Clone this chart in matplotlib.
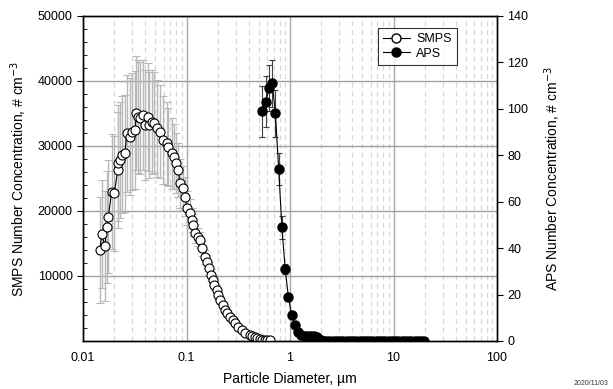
import matplotlib
matplotlib.use("Agg")
import matplotlib.pyplot as plt
from matplotlib.lines import Line2D
from matplotlib.ticker import FixedLocator, NullFormatter, MultipleLocator

plt.rcParams['font.family'] = ['Liberation Sans', 'DejaVu Sans']

# SMPS size distribution (diameter in um, number conc. in # cm-3)
smps_d = [0.01459, 0.01516, 0.01632, 0.01694, 0.01757, 0.01894, 0.02006, 0.02164,
          0.02193, 0.02279, 0.02365, 0.02546, 0.02644, 0.02846, 0.02955, 0.03181,
          0.03252, 0.03422, 0.03553, 0.03824, 0.03972, 0.04275, 0.04371, 0.04611,
          0.04853, 0.05154, 0.05546, 0.05969, 0.06437, 0.06671, 0.07194, 0.07572,
          0.07916, 0.08331, 0.08652, 0.09190, 0.09672, 0.1012, 0.1081, 0.1123,
          0.1164, 0.1208, 0.1300, 0.1350, 0.1403, 0.1509, 0.1567, 0.1661,
          0.1713, 0.1791, 0.1844, 0.1958, 0.2029, 0.2107, 0.2238, 0.2355,
          0.2480, 0.2633, 0.2796, 0.2942, 0.3167, 0.3416, 0.3675, 0.4108,
          0.4300, 0.4591, 0.4800, 0.5131, 0.5400, 0.5700, 0.6000, 0.6410]
smps_n = [14000, 16460, 14620, 17580, 19120, 22970, 22720, 26300,
          27340, 27850, 28620, 28880, 31950, 31430, 32200, 32460,
          35030, 34510, 34260, 34770, 33230, 34510, 33230, 33740,
          33580, 32720, 32200, 30920, 30410, 29890, 28880, 28350,
          27340, 26310, 24260, 23490, 22200, 20400, 19650, 18600,
          17850, 16570, 16050, 15540, 14260, 12970, 12200, 11180,
          10150, 9380, 8620, 7850, 7080, 6310, 5540, 4770,
          4260, 3740, 3230, 2720, 2200, 1690, 1180, 920,
          750, 660, 500, 260, 200, 180, 150, 150]
smps_err = [8200, 8300, 8500, 8600, 8700, 8800, 8800, 8900,
            8900, 8900, 9000, 9000, 9000, 9000, 9000, 9000,
            8800, 8700, 8600, 8500, 8500, 8300, 8200, 8000,
            7800, 7500, 7200, 6800, 6400, 6000, 5500, 5000,
            4600, 4200, 3800, 3400, 3000, 2600, 2200, 1900,
            1700, 1500, 1400, 1300, 1200, 1100, 1000, 950,
            900, 850, 800, 750, 700, 650, 600, 550,
            500, 450, 400, 350, 300, 250, 200, 150,
            120, 100, 80, 60, 50, 40, 30, 30]

# APS size distribution (right axis)
aps_d = [0.542, 0.583, 0.626, 0.673, 0.723, 0.777, 0.835, 0.898, 0.965, 1.037,
         1.114, 1.197, 1.286, 1.382, 1.486, 1.596, 1.715, 1.843, 1.981, 2.129,
         2.288, 2.458, 2.642, 2.839, 3.051, 3.278, 3.523, 3.786, 4.068, 4.371,
         4.698, 5.048, 5.425, 5.829, 6.264, 6.732, 7.234, 7.774, 8.354, 8.977,
         9.647, 10.37, 11.14, 11.97, 12.86, 13.82, 14.86, 15.96, 17.15, 18.43,
         19.81]
aps_n = [99, 103, 109, 111, 98, 74, 49, 31, 19, 11,
         7, 4, 2.5, 2.0, 2.0, 2.0, 2.0, 1.8, 0.4, 0.2,
         0.1, 0.1, 0.1, 0.1, 0.1, 0.1, 0.1, 0, 0, 0,
         0, 0, 0, 0, 0, 0, 0, 0, 0, 0,
         0, 0, 0, 0, 0, 0, 0, 0, 0, 0,
         0]
aps_err = [11, 11, 10, 10, 10, 7, 5, 2, 1, 0.6,
           0.4, 0.3, 0.2, 0.2, 0.2, 0.2, 0.2, 0.2, 0.1, 0,
           0, 0, 0, 0, 0, 0, 0, 0, 0, 0,
           0, 0, 0, 0, 0, 0, 0, 0, 0, 0,
           0, 0, 0, 0, 0, 0, 0, 0, 0, 0,
           0]

x_ticks = [0.01, 0.1, 1, 10, 100]
x_tick_labels = ["0.01", "0.1", "1", "10", "100"]

fig = plt.figure(figsize=(6.13, 3.89), dpi=100)
ax = fig.add_axes([0.1354, 0.1234, 0.6754, 0.8355])
ax2 = ax.twinx()

ax.set_xscale('log')
ax.set_xlim(0.01, 100)
ax.set_ylim(0, 50000)
ax2.set_ylim(0, 140)

# grid: solid at decades, dashed at minor positions
minor_pos = [m * 10.0 ** e for e in range(-2, 2) for m in range(2, 10)]
for xm in minor_pos:
    ax.axvline(xm, color='#d8d8d8', lw=0.9, ls=(0, (4, 3)), zorder=0)
for xv in [0.1, 1, 10]:
    ax.axvline(xv, color='#a8a8a8', lw=1.0, zorder=0.5)
for yv in [10000, 20000, 30000, 40000]:
    ax.axhline(yv, color='#a0a0a0', lw=1.0, zorder=0.5)

# SMPS
ax.errorbar(smps_d, smps_n, yerr=smps_err, fmt='none', ecolor='#b8b8b8',
            elinewidth=1.0, capsize=3, capthick=0.8, zorder=1)
ax.plot(smps_d, smps_n, '-', color='black', lw=0.8, zorder=2)
ax.plot(smps_d, smps_n, 'o', ms=6.5, mfc='white', mec='black', mew=0.8, zorder=3)

# APS
ax2.errorbar(aps_d, aps_n, yerr=aps_err, fmt='none', ecolor='#404040',
             elinewidth=0.8, capsize=2.5, capthick=0.8, zorder=1)
ax2.plot(aps_d, aps_n, '-o', color='black', lw=0.8, ms=6.5, mfc='black',
         mec='black', zorder=3)

ax.xaxis.set_major_locator(FixedLocator(x_ticks))
ax.set_xticklabels(x_tick_labels)
ax.xaxis.set_minor_formatter(NullFormatter())
ax.tick_params(axis='x', which='both', length=0, labelsize=9, pad=8)

ax.yaxis.set_major_locator(FixedLocator([10000, 20000, 30000, 40000, 50000]))
ax.yaxis.set_minor_locator(MultipleLocator(2000))
ax.tick_params(axis='y', which='major', direction='out', length=4, labelsize=9)
ax.tick_params(axis='y', which='minor', direction='in', length=3)

ax2.yaxis.set_major_locator(MultipleLocator(20))
ax2.tick_params(axis='y', which='major', direction='out', length=4, labelsize=9)

for a in (ax, ax2):
    for s in a.spines.values():
        s.set_linewidth(1.0)
        s.set_color('black')

ax.set_xlabel("Particle Diameter, \u00b5m", fontsize=10, labelpad=6)
ax.set_ylabel("SMPS Number Concentration, # cm$^{-3}$", fontsize=10, labelpad=6)
ax2.set_ylabel("APS Number Concentration, # cm$^{-3}$", fontsize=10, labelpad=10)

handles = [Line2D([], [], color='black', lw=0.8, marker='o', ms=6.5, mfc='white', mec='black'),
           Line2D([], [], color='black', lw=0.8, marker='o', ms=6.5, mfc='black', mec='black')]
leg = ax2.legend(handles, ["SMPS", "APS"], loc='upper right',
                 bbox_to_anchor=(0.918, 0.982), fontsize=9, frameon=True,
                 fancybox=False, edgecolor='black', handlelength=2.2,
                 borderpad=0.4, labelspacing=0.2, handletextpad=0.5)
leg.get_frame().set_linewidth(0.8)

fig.text(0.935, 0.005, "2020/11/03", fontsize=5, ha='left', va='bottom', color='#333333')

fig.savefig("out.png", dpi=100)
